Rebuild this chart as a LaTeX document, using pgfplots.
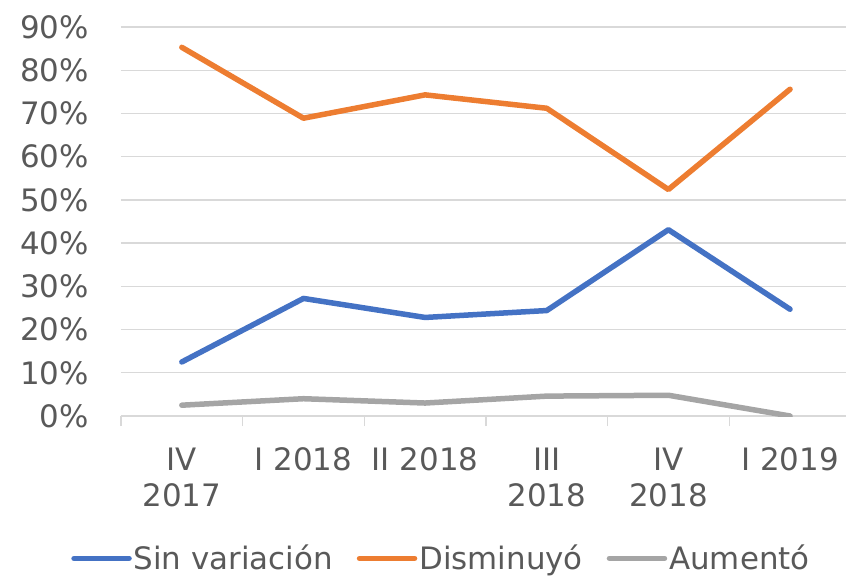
\documentclass[border=0pt]{standalone}
\usepackage{pgfplots}
\pgfplotsset{compat=1.18}
\usepackage{fontspec}
\setmainfont{DejaVu Sans}
\definecolor{cblue}{HTML}{4472C4}
\definecolor{corange}{HTML}{ED7D31}
\definecolor{cgray}{HTML}{A5A5A5}
\definecolor{gridgray}{HTML}{D9D9D9}
\definecolor{txt}{HTML}{595959}
\begin{document}
\begin{tikzpicture}
\begin{axis}[
  at={(0,0)}, anchor=south west,
  scale only axis,
  width=725bp, height=389bp,
  xmin=-0.5, xmax=5.46,
  ymin=0, ymax=90,
  axis line style={draw=none},
  ymajorgrids, grid style={draw=gridgray, line width=1.3bp},
  ytick={0,10,...,90},
  yticklabels={0\%,10\%,20\%,30\%,40\%,50\%,60\%,70\%,80\%,90\%},
  xtick={0,...,5},
  xticklabels={IV\\2017, I 2018, II 2018, III\\2018, IV\\2018, I 2019},
  minor xtick={-0.5,0.5,...,4.5},
  xtick pos=bottom, ytick pos=left,
  tick align=outside,
  major tick length=0pt, minor tick length=10bp,
  minor tick style={draw=gridgray, line width=1.3bp},
  every tick label/.append style={font=\fontsize{31}{37}\selectfont, text=txt},
  xticklabel style={align=center, yshift=-28bp},
  yticklabel style={inner sep=0pt, xshift=-32bp},
  legend columns=3,
  legend style={draw=none, fill=none, at={(0.442,-0.366)}, anchor=center,
    font=\fontsize{31}{37}\selectfont, text=txt,
    /tikz/every even column/.append style={column sep=22bp},
    nodes={inner sep=2bp}},
  legend image code/.code={\draw[#1] (0bp,0bp) -- (55bp,0bp);},
  every axis plot/.append style={line width=5.5bp, line cap=round, line join=round},
]
\addplot[cblue] coordinates {(0,12.5) (1,27.2) (2,22.8) (3,24.4) (4,43.1) (5,24.7)};
\addlegendentry{Sin variación}
\addplot[corange] coordinates {(0,85.3) (1,68.9) (2,74.3) (3,71.2) (4,52.4) (5,75.6)};
\addlegendentry{Disminuyó}
\addplot[cgray] coordinates {(0,2.5) (1,4.0) (2,3.0) (3,4.6) (4,4.8) (5,0.0)};
\addlegendentry{Aumentó}
\end{axis}
\pgfresetboundingbox
\path (-121bp,-161bp) rectangle (725bp,416bp);
\end{tikzpicture}
\end{document}
